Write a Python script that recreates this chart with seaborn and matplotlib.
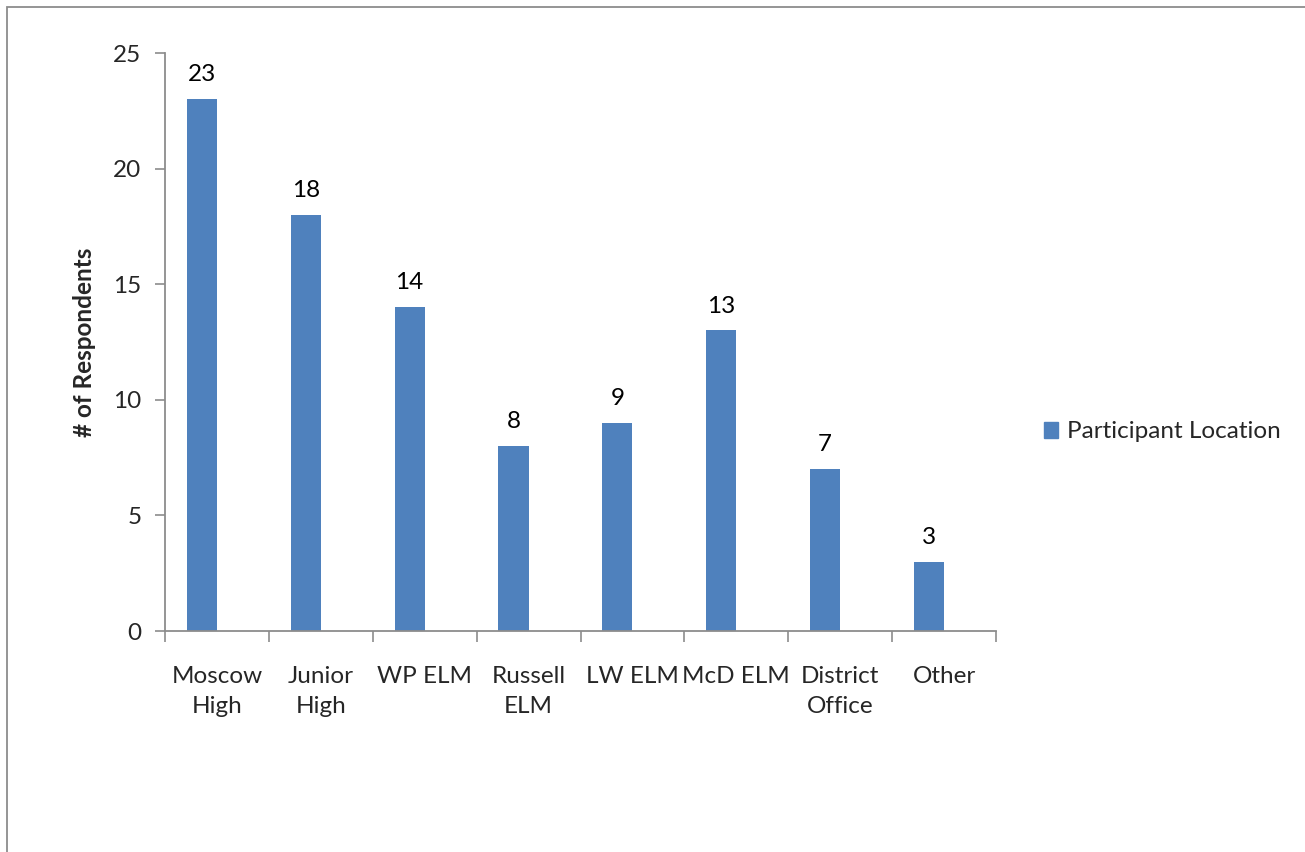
import matplotlib
matplotlib.use("Agg")
import matplotlib.pyplot as plt
import seaborn as sns
import pandas as pd
from matplotlib.patches import Patch, Rectangle

categories = ["Moscow\nHigh", "Junior\nHigh", "WP ELM", "Russell\nELM", "LW ELM", "McD ELM", "District\nOffice", "Other"]
values = [23, 18, 14, 8, 9, 13, 7, 3]
series_name = "Participant Location"
y_ticks = [0, 5, 10, 15, 20, 25]

sns.set_theme(style="white")
plt.rcParams['font.family'] = ['Lato', 'DejaVu Sans']

FS = 17.5
df = pd.DataFrame({"cat": categories, "val": values, "series": series_name})

fig = plt.figure(figsize=(13.05, 8.52), dpi=100)
ax = fig.add_axes([165/1305, 1 - 631/852, (996 - 165)/1305, (631 - 53)/852])

bar_color = "#4F81BD"
sns.barplot(data=df, x="cat", y="val", hue="series",
            hue_order=[series_name, "_blank"],
            palette={series_name: bar_color, "_blank": "white"},
            dodge=True, width=0.58, ax=ax, legend=False, errorbar=None,
            order=categories, saturation=1, linewidth=0)

for p in ax.patches:
    h = p.get_height()
    if h > 0:
        ax.annotate(f"{int(round(h))}", (p.get_x() + p.get_width() / 2, h),
                    xytext=(0, 10), textcoords="offset points",
                    ha="center", va="bottom", fontsize=FS, color="black")

ax.set_xlim(-0.5, len(categories) - 0.5)
ax.set_ylim(0, 25)
ax.set_yticks(y_ticks)
ax.set_yticklabels([str(t) for t in y_ticks], fontsize=FS)
ax.set_xticks([i for i in range(len(categories))])
ax.set_xticklabels(categories, fontsize=FS, linespacing=1.55)
ax.set_xticks([i - 0.5 for i in range(len(categories) + 1)], minor=True)
ax.tick_params(axis="x", which="major", length=0, pad=25)
ax.tick_params(axis="x", which="minor", length=8, width=1.2, color="#8c8c8c", direction="out", bottom=True)
ax.tick_params(axis="y", length=7, width=1.2, color="#8c8c8c", direction="out", left=True, pad=10)
ax.set_xlabel("")
ax.set_ylabel("# of Respondents", fontsize=FS, fontweight="bold", labelpad=12)

for side in ["top", "right"]:
    ax.spines[side].set_visible(False)
for side in ["left", "bottom"]:
    ax.spines[side].set_color("#8c8c8c")
    ax.spines[side].set_linewidth(1.3)

handles = [Patch(facecolor=bar_color, edgecolor=bar_color)]
fig.legend(handles, [series_name], loc="center left", bbox_to_anchor=(1022/1305, 1 - 432/852),
           frameon=False, fontsize=FS, handlelength=0.6, handleheight=0.6, handletextpad=0.35)

fig.patches.append(Rectangle((7/1305, -0.1), 1.2, 1 - 7/852 + 0.1, transform=fig.transFigure,
                             fill=False, edgecolor="#8c8c8c", linewidth=1.3))

fig.savefig("out.png", dpi=100)
